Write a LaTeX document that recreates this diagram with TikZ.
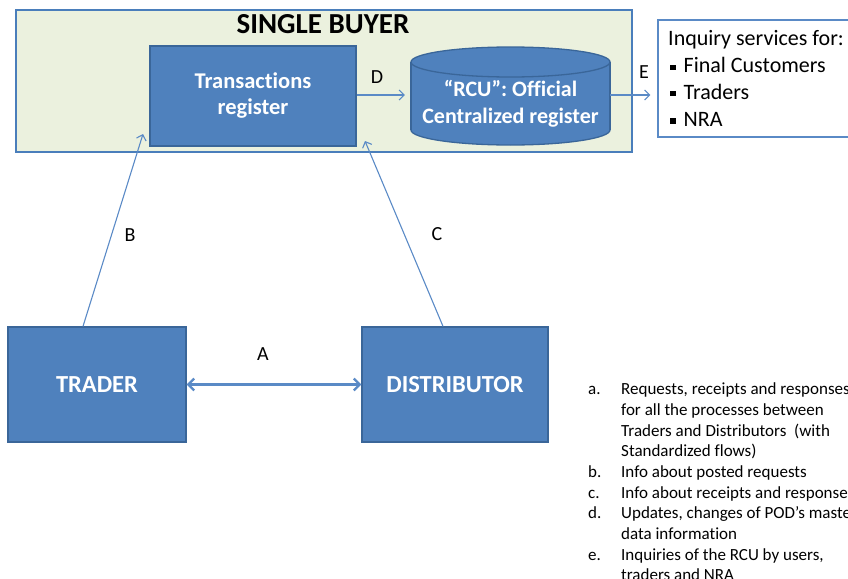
\documentclass[tikz,border=0pt]{standalone}
\usepackage{fontspec}
\setmainfont{Carlito}[Ligatures=NoCommon]
\usetikzlibrary{arrows.meta}
\definecolor{boxblue}{HTML}{4F81BD}
\definecolor{boxedge}{HTML}{3A6699}
\definecolor{panel}{HTML}{EBF1DE}
\definecolor{paneledge}{HTML}{4A7EBB}
\definecolor{linkblue}{HTML}{5A8AC6}
\begin{document}
\begin{tikzpicture}[x=1pt,y=-1pt,
  block/.style={draw=boxedge, line width=1.3pt, fill=boxblue, text=white,
    font=\fontsize{22.5}{26}\selectfont\bfseries, align=center, inner sep=0pt},
  link/.style={draw=linkblue, line width=1.1pt, -{Straight Barb[length=5pt,width=10pt]}},
  tag/.style={font=\fontsize{20}{22}\selectfont, inner sep=0pt},
  inqline/.style={font=\fontsize{22}{26}\selectfont, anchor=base west, inner sep=0pt}]
\useasboundingbox (0,0) rectangle (848,578);

% Single buyer panel
\node[draw=paneledge, fill=panel, line width=1.5pt, minimum width=616pt,
      minimum height=142pt, inner sep=0pt] (sb) at (324,81) {};
\node[font=\fontsize{29}{32}\selectfont\bfseries, inner sep=0pt] (title) at (323,24) {SINGLE BUYER};

% Transactions register
\node[block, minimum width=206pt, minimum height=100pt] (tr) at (253,96)
  {Transactions\\register};

% RCU cylinder
\node[minimum width=199pt, minimum height=98pt, inner sep=0pt] (rcu) at (510.5,96) {};
\fill[boxblue, draw=boxedge, line width=1.3pt] (510.5,130) ellipse[x radius=99.5, y radius=15];
\fill[boxblue] (411,62) rectangle (610,130);
\draw[boxedge, line width=1.3pt] (411,62) -- (411,130) (610,62) -- (610,130);
\fill[boxblue, draw=boxedge, line width=1.3pt] (510.5,62) ellipse[x radius=99.5, y radius=15];
\node[text=white, font=\fontsize{22}{27}\selectfont\bfseries, align=center, inner sep=0pt]
  (rcutext) at (510.5,104) {“RCU”: Official\\Centralized register};

% Inquiry services box
\node[draw=linkblue, fill=white, line width=1.2pt, minimum width=200pt,
      minimum height=117pt, inner sep=0pt] (inq) at (758,78.5) {};
\node[inqline] (inq1) at (668,45.5) {Inquiry services for:};
\node[inqline] (inq2) at (670,72.5) {\rule[2.5pt]{5.5pt}{5.5pt}\hspace{8pt}Final Customers};
\node[inqline] (inq3) at (670,99) {\rule[2.5pt]{5.5pt}{5.5pt}\hspace{8pt}Traders};
\node[inqline] (inq4) at (670,126) {\rule[2.5pt]{5.5pt}{5.5pt}\hspace{8pt}NRA};

% Trader and distributor
\node[block, font=\fontsize{24.5}{28}\selectfont\bfseries, minimum width=178pt,
      minimum height=115pt] (trader) at (97,384.5) {TRADER};
\node[block, font=\fontsize{24.5}{28}\selectfont\bfseries, minimum width=186pt,
      minimum height=115pt] (dist) at (455,384.5) {DISTRIBUTOR};

% Flows
\draw[draw=linkblue, line width=2.2pt, {Straight Barb[length=6pt,width=12pt]}-{Straight Barb[length=6pt,width=12pt]}]
  (trader.east) -- (dist.west);
\node[tag] (la) at (263,354) {A};

\coordinate (bhead) at (143,134);
\draw[link] ([xshift=-14pt]trader.north) -- (bhead);
\node[tag] (lb) at (130,235) {B};

\coordinate (chead) at (365,141);
\draw[link] ([xshift=-12pt]dist.north) -- (chead);
\node[tag] (lc) at (437,234) {C};

\draw[link, shorten >=6pt] ([yshift=1pt]tr.east) -- ([yshift=1pt]rcu.west);
\node[tag] (ld) at (377,77) {D};

\draw[link, shorten >=7pt] ([yshift=1pt]rcu.east) -- ([yshift=1pt]rcu.east -| inq.west);
\node[tag] (le) at (644,72) {E};

% Legend
\node[anchor=north west, inner sep=0pt, font=\fontsize{17}{20.7}\selectfont] (legend) at (588,380)
{\begin{tabular}[t]{@{}p{33pt}@{}l@{}}
a. & Requests, receipts and responses\\
   & for all the processes between\\
   & Traders and Distributors\ \ (with\\
   & Standardized flows)\\
b. & Info about posted requests\\
c. & Info about receipts and responses\\
d. & Updates, changes of POD’s master\\
   & data information\\
e. & Inquiries of the RCU by users,\\
   & traders and NRA
\end{tabular}};
\end{tikzpicture}
\end{document}
